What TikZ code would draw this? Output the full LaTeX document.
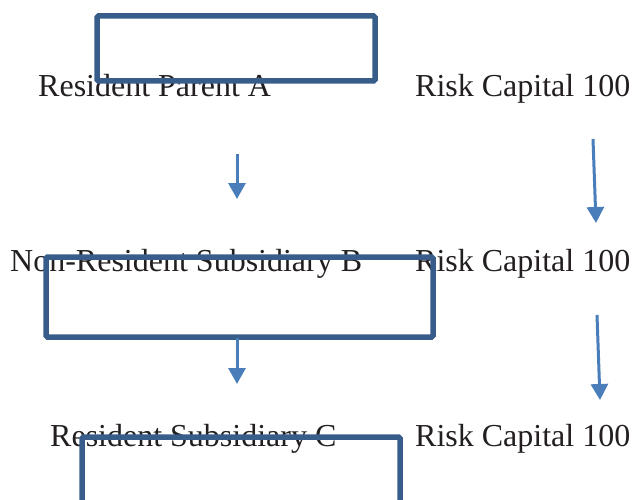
\documentclass[tikz,border=0pt]{standalone}
\usepackage{fontspec}
\setmainfont{Liberation Serif}
\usepackage{xcolor}
\usetikzlibrary{arrows.meta}

\definecolor{boxblue}{HTML}{385D8A}
\definecolor{arrowblue}{HTML}{4A7EBB}
\definecolor{inkgray}{HTML}{231F20}

\tikzset{
  entity/.style={anchor=base west,inner sep=0pt,text=inkgray,font=\fontsize{32}{38}\selectfont},
  frame/.style={draw=boxblue,line width=5.5pt,rounded corners=1.5pt},
  flow/.style={draw=arrowblue,line width=3pt,-{Triangle[width=17pt,length=16pt]}}
}

\begin{document}
\begin{tikzpicture}[x=1pt,y=-1pt]

\useasboundingbox (0,0) rectangle (632,500) ;
\clip (0,0) rectangle (632,500) ;

%entity labels
\node [entity] (resA) at (38,97) {Resident Parent A} ;
\node [entity] (resB) at (10,271) {Non-Resident Subsidiary B} ;
\node [entity] (resC) at (50,446) {Resident Subsidiary C} ;

%risk capital labels
\node [entity] (capA) at (415,97) {Risk Capital 100} ;
\node [entity] (capB) at (415,271) {Risk Capital 100} ;
\node [entity] (capC) at (415,446) {Risk Capital 100} ;

%boxes
\draw [frame] (97,16) rectangle (375,81) ;
\draw [frame] (46,257) rectangle (433,337) ;
\draw [frame] (82,437) rectangle (400,520) ;

%arrow end points
\coordinate (la1) at (237,154) ;
\coordinate (lb1) at (237,199) ;
\coordinate (la2) at (237,338) ;
\coordinate (lb2) at (237,384) ;
\coordinate (ra1) at (593,139) ;
\coordinate (rb1) at (596,223) ;
\coordinate (ra2) at (597,315) ;
\coordinate (rb2) at (600,400) ;

%arrows
\draw [flow] (la1) -- (lb1) ;
\draw [flow] (la2) -- (lb2) ;
\draw [flow] (ra1) -- (rb1) ;
\draw [flow] (ra2) -- (rb2) ;

\end{tikzpicture}
\end{document}
